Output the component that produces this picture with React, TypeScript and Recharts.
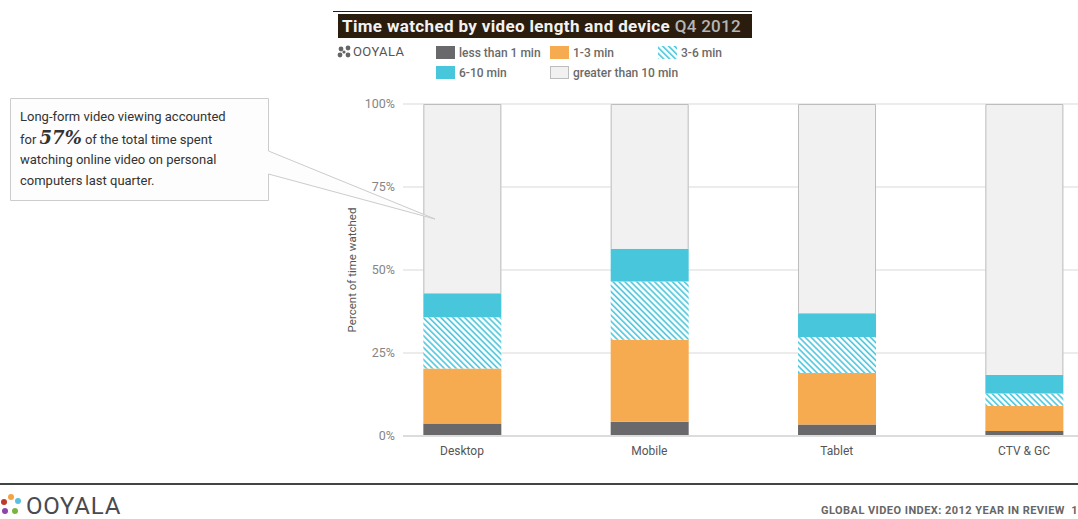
import React from 'react';
import { BarChart, Bar, XAxis, YAxis, CartesianGrid } from 'recharts';

const categories = ['Desktop', 'Mobile', 'Tablet', 'CTV & GC'];
const lessThan1 = [3.8, 4.3, 3.5, 1.5];
const oneToThree = [16.5, 24.7, 15.5, 7.5];
const threeToSix = [15.5, 17.5, 10.8, 3.8];
const sixToTen = [7.2, 9.9, 7.2, 5.6];
const greaterThan10 = [57.0, 43.6, 63.0, 81.6];
const yTicks = [0, 25, 50, 75, 100];

const data = categories.map((c, i) => ({
  idx: i,
  name: c,
  lt1: lessThan1[i],
  m13: oneToThree[i],
  m36: threeToSix[i],
  m610: sixToTen[i],
  gt10: greaterThan10[i],
}));

const C_DARK = '#69696b';
const C_ORANGE = '#f7ab50';
const C_CYAN = '#48c6dc';
const C_LIGHT = '#f1f1f1';
const C_BORDER = '#bdbdbd';
const FONT = 'Roboto, "Liberation Sans", sans-serif';

const TopShape = (props: any) => {
  const { x, y, width, height } = props;
  return (
    <g>
      <rect x={x} y={y} width={width} height={height} fill={C_LIGHT} />
      <path
        d={`M${x + 0.5},${y + height} V${y + 0.5} H${x + width - 0.5} V${y + height}`}
        fill="none"
        stroke={C_BORDER}
        strokeWidth={1}
      />
    </g>
  );
};

const YLabel = (props: any) => {
  const { viewBox } = props;
  const cy = viewBox.y + viewBox.height / 2;
  return (
    <text
      x={352}
      y={cy}
      transform={`rotate(-90, 352, ${cy})`}
      textAnchor="middle"
      dominantBaseline="central"
      fontSize={11.5}
      fill="#555"
      fontFamily={FONT}
    >
      Percent of time watched
    </text>
  );
};

const legendItems = [
  { label: 'less than 1 min', x: 436, y: 46, kind: 'dark' },
  { label: '1-3 min', x: 550, y: 46, kind: 'orange' },
  { label: '3-6 min', x: 658, y: 46, kind: 'hatch' },
  { label: '6-10 min', x: 436, y: 66, kind: 'cyan' },
  { label: 'greater than 10 min', x: 550, y: 66, kind: 'light' },
];

const Swatch = ({ kind }: { kind: string }) => {
  const common: React.CSSProperties = { width: 19, height: 13, boxSizing: 'border-box', display: 'inline-block' };
  if (kind === 'hatch') {
    return (
      <svg width={19} height={13} style={{ display: 'block' }}>
        <defs>
          <pattern id="hatchLeg" patternUnits="userSpaceOnUse" width={4.2} height={4.2} patternTransform="rotate(45)">
            <rect width={4.2} height={4.2} fill="#fff" />
            <line x1={0} y1={1} x2={4.2} y2={1} stroke={C_CYAN} strokeWidth={1.6} />
          </pattern>
        </defs>
        <rect x={0} y={0} width={19} height={13} fill="url(#hatchLeg)" />
      </svg>
    );
  }
  const bg = kind === 'dark' ? C_DARK : kind === 'orange' ? C_ORANGE : kind === 'cyan' ? C_CYAN : C_LIGHT;
  return <div style={{ ...common, background: bg, border: kind === 'light' ? `1px solid ${C_BORDER}` : 'none' }} />;
};

export default function App() {
  return (
    <div style={{ position: 'absolute', left: 0, top: 0, width: 1078, height: 519, overflow: 'hidden', background: '#fff', fontFamily: FONT }}>
      <div style={{ position: 'absolute', left: 0, top: 0 }}>
        <BarChart width={1078} height={519} data={data} margin={{ top: 104, right: 0, bottom: 53, left: 340 }} barSize={78}>
          <defs>
            <pattern id="hatch" patternUnits="userSpaceOnUse" width={4.2} height={4.2} patternTransform="rotate(45)">
              <rect width={4.2} height={4.2} fill="#fff" />
              <line x1={0} y1={1} x2={4.2} y2={1} stroke={C_CYAN} strokeWidth={1.6} />
            </pattern>
          </defs>
          <CartesianGrid vertical={false} stroke="#d9d9d9" />
          <XAxis
            type="number"
            dataKey="idx"
            height={30}
            domain={[-0.315, 3.288]}
            ticks={[0, 1, 2, 3]}
            allowDataOverflow
            tickFormatter={(v: number) => categories[v] ?? ''}
            axisLine={{ stroke: '#dcdcdc', strokeWidth: 2 }}
            tickLine={false}
            tickSize={0}
            tickMargin={10}
            tick={{ fontSize: 12, fill: '#555', fontFamily: FONT }}
          />
          <YAxis
            width={63}
            domain={[0, 100]}
            ticks={yTicks}
            tickFormatter={(v: number) => `${v}%`}
            axisLine={false}
            tickLine={false}
            tickSize={0}
            tickMargin={8}
            tick={{ fontSize: 12.5, fill: '#858585', fontFamily: FONT }}
            label={<YLabel />}
          />
          <Bar dataKey="lt1" stackId="a" fill={C_DARK} isAnimationActive={false} />
          <Bar dataKey="m13" stackId="a" fill={C_ORANGE} isAnimationActive={false} />
          <Bar dataKey="m36" stackId="a" fill="url(#hatch)" isAnimationActive={false} />
          <Bar dataKey="m610" stackId="a" fill={C_CYAN} isAnimationActive={false} />
          <Bar dataKey="gt10" stackId="a" fill={C_LIGHT} shape={<TopShape />} isAnimationActive={false} />
        </BarChart>
      </div>

      {/* Title */}
      <div style={{ position: 'absolute', left: 333, top: 11, width: 419, height: 1, background: '#2b1d0e' }} />
      <div
        style={{
          position: 'absolute',
          left: 338,
          top: 14,
          width: 414,
          height: 24,
          background: '#2b1d0e',
          color: '#f2f2f2',
          fontSize: 17,
          fontWeight: 700,
          lineHeight: '24px',
          paddingLeft: 4,
          boxSizing: 'border-box',
          whiteSpace: 'nowrap',
          letterSpacing: 0.35,
        }}
      >
        Time watched by video length and device <span style={{ color: '#b5b5b5', fontWeight: 500, letterSpacing: 0.3 }}>Q4 2012</span>
      </div>

      {/* Legend logo */}
      <svg style={{ position: 'absolute', left: 337, top: 45 }} width={16} height={14}>
        {[[4, 4], [11, 3], [3, 10], [11, 10], [7, 7]].map(([cx, cy], i) => (
          <circle key={i} cx={cx} cy={cy} r={i === 4 ? 1.6 : 2.4} fill="#666" />
        ))}
      </svg>
      <div style={{ position: 'absolute', left: 353, top: 44, fontSize: 13, color: '#555', letterSpacing: 0.4, lineHeight: '16px' }}>
        OOYALA
      </div>

      {/* Legend */}
      {legendItems.map((it) => (
        <div key={it.label} style={{ position: 'absolute', left: it.x, top: it.y, display: 'flex', alignItems: 'center', height: 13 }}>
          <Swatch kind={it.kind} />
          <span style={{ marginLeft: 4, fontSize: 12, fontWeight: 500, color: '#6a6a6a', whiteSpace: 'nowrap' }}>{it.label}</span>
        </div>
      ))}

      {/* Callout */}
      <svg style={{ position: 'absolute', left: 0, top: 0 }} width={1078} height={519}>
        <path
          d="M10.5,98.5 H268.5 V151 L435,219 L268.5,174 V200.5 H10.5 Z"
          fill="#fdfdfd"
          stroke="#cccccc"
          strokeWidth={1}
        />
        <line x1={0} y1={484} x2={1078} y2={484} stroke="#444" strokeWidth={2} />
        {/* footer logo dots */}
        <circle cx={4} cy={502} r={3} fill="#c0392b" />
        <circle cx={11} cy={497} r={3} fill="#f4a340" />
        <circle cx={18} cy={501} r={3} fill="#5bc0de" />
        <circle cx={5} cy={511} r={3} fill="#8e44ad" />
        <circle cx={15} cy={511} r={3} fill="#7cb342" />
      </svg>
      <div style={{ position: 'absolute', left: 20, top: 107, width: 240, fontSize: 13, lineHeight: '20.7px', color: '#333' }}>
        Long-form video viewing accounted
        <br />
        for <span style={{ fontFamily: '"DejaVu Serif", serif', fontWeight: 700, fontStyle: 'italic', fontSize: 18 }}>57%</span> of the total time spent
        <br />
        watching online video on personal
        <br />
        computers last quarter.
      </div>

      {/* Footer */}
      <div style={{ position: 'absolute', left: 26, top: 492, fontSize: 24, color: '#4a4a50', lineHeight: '28px', letterSpacing: 0.8 }}>
        OOYALA
      </div>
      <div style={{ position: 'absolute', right: 0, top: 504, fontSize: 11, fontWeight: 700, color: '#666', lineHeight: '14px', whiteSpace: 'nowrap', letterSpacing: 0.45 }}>
        GLOBAL VIDEO INDEX: 2012 YEAR IN REVIEW&nbsp;&nbsp;1
      </div>
    </div>
  );
}
